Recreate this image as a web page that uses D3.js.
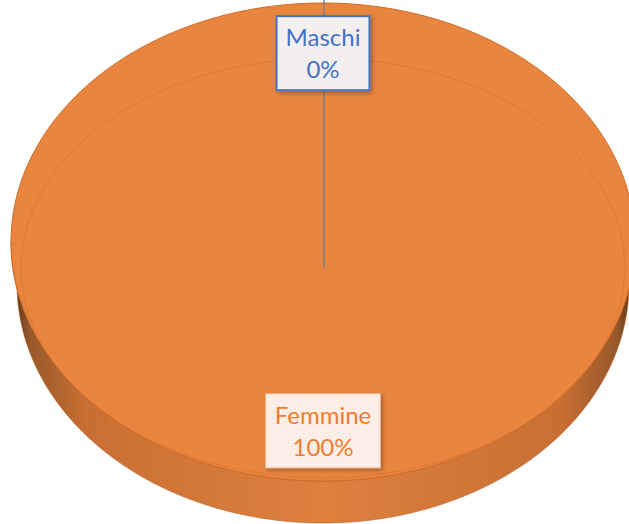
<!DOCTYPE html>
<html>
<head>
<meta charset="utf-8">
<script src="https://cdn.jsdelivr.net/npm/d3@7"></script>
<style>
  body { margin: 0; background: #fff; }
  svg { display: block; }
</style>
</head>
<body>
<div id="chart"></div>
<script>
const categories = ["Maschi", "Femmine"];
const values = [0, 100];
const percentLabels = ["0%", "100%"];

const W = 629, H = 524;
// projected ellipse of the pie top and its thickness
const cx = 323, cy = 242, rx = 312, ry = 239, depth = 42;
const bottomShrink = 6; // far edges of the base recede a little
const hub = [324, 268]; // where the slice edges meet on screen

const svg = d3.select("#chart").append("svg")
    .attr("width", W)
    .attr("height", H);

const defs = svg.append("defs");

const sideGrad = defs.append("linearGradient")
    .attr("id", "side")
    .attr("gradientUnits", "userSpaceOnUse")
    .attr("x1", cx - rx).attr("x2", cx + rx)
    .attr("y1", 0).attr("y2", 0);
[[0, "#4f3015"], [0.03, "#98582a"], [0.12, "#c96f33"], [0.5, "#de813f"],
 [0.88, "#c96f33"], [0.97, "#98582a"], [1, "#4f3015"]].forEach(s => {
    sideGrad.append("stop").attr("offset", s[0]).attr("stop-color", s[1]);
});

const shadow = defs.append("filter")
    .attr("id", "shadow")
    .attr("x", "-20%").attr("y", "-20%")
    .attr("width", "140%").attr("height", "140%");
shadow.append("feDropShadow")
    .attr("dx", 2).attr("dy", 2)
    .attr("stdDeviation", 2)
    .attr("flood-color", "#000")
    .attr("flood-opacity", 0.3);

const color = d3.scaleOrdinal()
    .domain(categories)
    .range(["#4472C4", "#E9853F"]);

const labelFill = d3.scaleOrdinal()
    .domain(categories)
    .range(["#F3EFEE", "#FCEEE6"]);

const labelStroke = d3.scaleOrdinal()
    .domain(categories)
    .range(["#4472C4", "#F5C4A0"]);

const labelText = d3.scaleOrdinal()
    .domain(categories)
    .range(["#4472C4", "#ED7D31"]);

const pie = d3.pie().sort(null).value(d => d);
const arcs = pie(values).map((a, i) => ({ ...a, name: categories[i], pct: percentLabels[i] }));

function proj(a, r, dy = 0, shrink = 0) {
    return [cx + (rx - shrink) * r * Math.sin(a), cy - ry * r * Math.cos(a) + dy];
}

function sample(a0, a1, r, dy = 0, shrink = 0) {
    const n = Math.max(2, Math.ceil((a1 - a0) / 0.01));
    return d3.range(n + 1).map(k => proj(a0 + (a1 - a0) * k / n, r, dy, shrink));
}

const line = d3.line();

// side wall: only the front half (angles PI/2 .. 3PI/2)
arcs.forEach(d => {
    const a0 = Math.max(d.startAngle, Math.PI / 2);
    const a1 = Math.min(d.endAngle, 3 * Math.PI / 2);
    if (a1 <= a0) return;
    const top = sample(a0, a1, 1);
    const bottom = sample(a0, a1, 1, depth, bottomShrink).reverse();
    svg.append("path")
        .attr("d", line(top.concat(bottom)) + "Z")
        .attr("fill", "url(#side)")
        .attr("stroke", "#b5602a")
        .attr("stroke-width", 0.6);
});

// top face
arcs.forEach(d => {
    if (d.endAngle - d.startAngle <= 0) return;
    const pts = sample(d.startAngle, d.endAngle, 1);
    const full = d.endAngle - d.startAngle >= 2 * Math.PI - 1e-6;
    svg.append("path")
        .attr("d", line(full ? pts : [hub].concat(pts)) + "Z")
        .attr("fill", color(d.name));
});

// rim of the top face
svg.append("path")
    .attr("d", line(sample(0, 2 * Math.PI, 1)) + "Z")
    .attr("fill", "none")
    .attr("stroke", "#cf6a25")
    .attr("stroke-width", 1);

// faint inner rim
svg.append("ellipse")
    .attr("cx", cx)
    .attr("cy", hub[1])
    .attr("rx", rx - 10)
    .attr("ry", 210)
    .attr("fill", "none")
    .attr("stroke", "#d46f2b")
    .attr("stroke-width", 1)
    .attr("opacity", 0.55);

// edge of the empty slice
arcs.filter(d => d.endAngle - d.startAngle === 0).forEach(d => {
    const p = proj(d.startAngle, 1);
    svg.append("line")
        .attr("x1", hub[0]).attr("y1", hub[1])
        .attr("x2", hub[0]).attr("y2", p[1] - 3)
        .attr("stroke", "#7f7f7f")
        .attr("stroke-width", 1.5);
});

// data labels
const labelR = 0.79;
const lbl = svg.selectAll(".label")
    .data(arcs)
    .enter().append("g")
    .attr("class", "label")
    .attr("transform", d => {
        const p = proj((d.startAngle + d.endAngle) / 2, labelR);
        return `translate(${p[0]},${p[1]})`;
    });

const box = lbl.append("rect")
    .attr("fill", d => labelFill(d.name))
    .attr("stroke", d => labelStroke(d.name))
    .attr("stroke-width", d => d.name === "Maschi" ? 2 : 1)
    .attr("filter", "url(#shadow)");

const txt = lbl.append("text")
    .attr("text-anchor", "middle")
    .style("font-family", "Lato, 'Open Sans', sans-serif")
    .style("font-size", "24px")
    .attr("fill", d => labelText(d.name));

txt.append("tspan").attr("x", 0).attr("y", -7).text(d => d.name);
txt.append("tspan").attr("x", 0).attr("y", 25).text(d => d.pct);

box.each(function(d) {
    const bb = this.parentNode.querySelector("text").getBBox();
    const w = bb.width + 18;
    d3.select(this)
        .attr("x", -w / 2)
        .attr("y", -37)
        .attr("width", w)
        .attr("height", 74);
});
</script>
</body>
</html>
